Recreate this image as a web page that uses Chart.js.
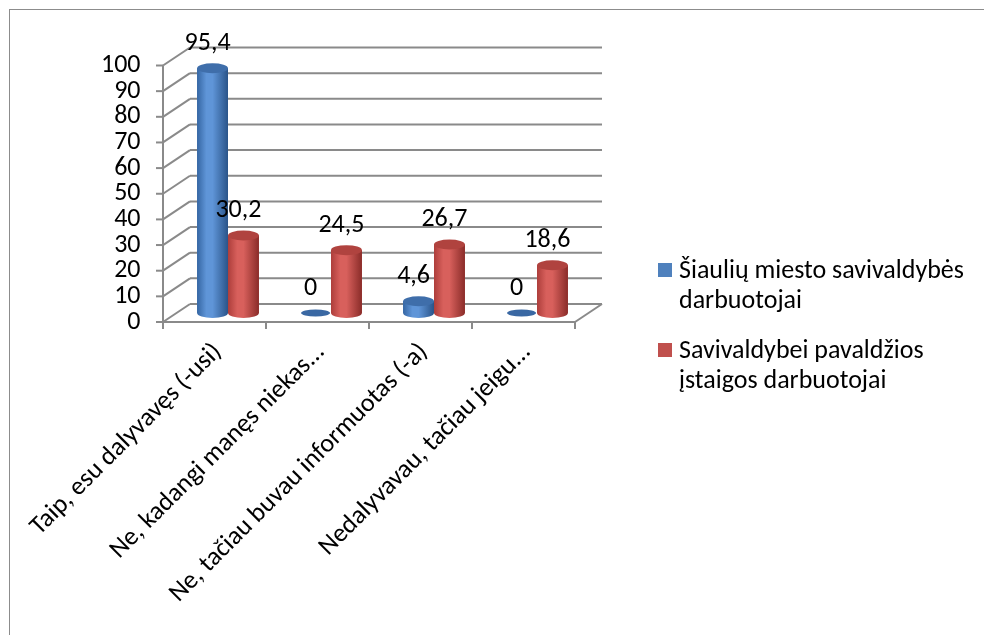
<!DOCTYPE html>
<html>
<head>
<meta charset="utf-8">
<script src="https://cdn.jsdelivr.net/npm/chart.js@4/dist/chart.umd.min.js"></script>
<style>
  body { margin: 0; background: #fff; }
  canvas { display: block; }
</style>
</head>
<body>
<canvas id="myChart" width="984" height="635"></canvas>
<script>
'use strict'
//////////////////
//Data
/////////////////
const categories = ['Taip, esu dalyvavęs (-usi)', 'Ne, kadangi manęs niekas...', 'Ne, tačiau buvau informuotas (-a)', 'Nedalyvavau, tačiau jeigu...'];
const seriesNames = ['Šiaulių miesto savivaldybės darbuotojai', 'Savivaldybei pavaldžios įstaigos darbuotojai'];
const legendLines = [['Šiaulių miesto savivaldybės', 'darbuotojai'], ['Savivaldybei pavaldžios', 'įstaigos darbuotojai']];
const municipalStaff = [95.4, 0, 4.6, 0];
const subordinateStaff = [30.2, 24.5, 26.7, 18.6];
const yMin = 0;
const yMax = 100;
const yStep = 10;

const fontFamily = 'Calibri, Carlito, "Open Sans", sans-serif';
const fontSize = 26;
const gridColor = '#8a8a8a';
// depth of the fake 3d box, half in each direction from the bar plane
const depthX = 13.5;
const depthY = 9;

const seriesColors = [
  {base: '#4f81bd', dark1: '#3566a3', light: '#5f95d8', dark2: '#2a5489', top: '#3f6eaa', flat: '#3a68a3'},
  {base: '#c0504d', dark1: '#ad3e3b', light: '#d8605c', dark2: '#8a2c29', top: '#b0433f', flat: '#a83b38'}
];

/////////////////////////
//Functions
////////////////////////
function line(ctx, x1, y1, x2, y2){
  ctx.beginPath();
  ctx.moveTo(x1, y1);
  ctx.lineTo(x2, y2);
  ctx.stroke();
}

//back wall, left wall and floor
function drawBox(chart){
  const ctx = chart.ctx;
  const area = chart.chartArea;
  const yScale = chart.scales.y;
  const backL = area.left + depthX;
  const backR = area.right + depthX;
  const frontL = area.left - depthX;
  const frontR = area.right - depthX;
  ctx.save();
  ctx.strokeStyle = gridColor;
  ctx.lineWidth = 2;
  for (let tick of yScale.ticks){
    const ym = yScale.getPixelForValue(tick.value);
    line(ctx, backL, ym - depthY, backR, ym - depthY);
    line(ctx, frontL, ym + depthY, backL, ym - depthY);
    line(ctx, frontL - 7, ym + depthY, frontL, ym + depthY);
  }
  const y0 = yScale.getPixelForValue(yMin);
  const yTop = yScale.getPixelForValue(yMax);
  line(ctx, frontL, yTop + depthY, frontL, y0 + depthY);
  line(ctx, frontL, y0 + depthY, frontR, y0 + depthY);
  line(ctx, frontR, y0 + depthY, backR, y0 - depthY);
  const catW = (area.right - area.left) / categories.length;
  for (let i = 0; i <= categories.length; i++){
    const x = frontL + i * catW;
    line(ctx, x, y0 + depthY, x, y0 + depthY + 7);
  }
  ctx.restore();
}

function drawCylinder(ctx, bar, colors){
  const p = bar.getProps(['x', 'y', 'base', 'width'], true);
  const r = p.width / 2;
  const left = p.x - r;
  const ry = 5;
  if (p.base - p.y < 1){
    ctx.fillStyle = colors.flat;
    ctx.beginPath();
    ctx.ellipse(p.x, p.base, r - 1, 3.5, 0, 0, Math.PI * 2);
    ctx.fill();
    return;
  }
  const g = ctx.createLinearGradient(left, 0, left + p.width, 0);
  g.addColorStop(0, colors.dark1);
  g.addColorStop(0.3, colors.light);
  g.addColorStop(0.5, colors.light);
  g.addColorStop(1, colors.dark2);
  ctx.fillStyle = g;
  ctx.fillRect(left, p.y, p.width, p.base - p.y);
  ctx.beginPath();
  ctx.ellipse(p.x, p.base, r, ry, 0, 0, Math.PI);
  ctx.fill();
  ctx.fillStyle = colors.top;
  ctx.beginPath();
  ctx.ellipse(p.x, p.y, r, ry, 0, 0, Math.PI * 2);
  ctx.fill();
}

function formatValue(v){
  return String(v).replace('.', ',');
}

const box3dPlugin = {
  id: 'box3d',
  beforeDraw(chart){
    const ctx = chart.ctx;
    ctx.save();
    ctx.fillStyle = '#fff';
    ctx.fillRect(0, 0, chart.width, chart.height);
    ctx.strokeStyle = '#8c8c8c';
    ctx.lineWidth = 1;
    ctx.strokeRect(9.5, 9.5, 1100, 1100);
    ctx.restore();
  },
  beforeDatasetsDraw(chart){
    drawBox(chart);
  },
  afterDatasetsDraw(chart){
    const ctx = chart.ctx;
    ctx.save();
    chart.data.datasets.forEach((ds, di) => {
      const meta = chart.getDatasetMeta(di);
      meta.data.forEach(bar => drawCylinder(ctx, bar, seriesColors[di]));
    });
    //value labels
    ctx.fillStyle = '#000';
    ctx.font = fontSize + 'px ' + fontFamily;
    ctx.textAlign = 'center';
    ctx.textBaseline = 'middle';
    chart.data.datasets.forEach((ds, di) => {
      const meta = chart.getDatasetMeta(di);
      meta.data.forEach((bar, i) => {
        ctx.fillText(formatValue(ds.data[i]), bar.x - 5, bar.y - 25);
      });
    });
    ctx.restore();
  },
  afterDraw(chart){
    //legend with wrapped names
    const ctx = chart.ctx;
    ctx.save();
    ctx.font = fontSize + 'px ' + fontFamily;
    ctx.textBaseline = 'middle';
    ctx.textAlign = 'left';
    const startY = 271;
    legendLines.forEach((lines, i) => {
      const y = startY + i * 80;
      ctx.fillStyle = seriesColors[i].base;
      ctx.fillRect(658, y - 8, 14, 14);
      ctx.fillStyle = '#000';
      lines.forEach((txt, j) => ctx.fillText(txt, 679, y + j * 30));
    });
    ctx.restore();
  }
};

function renderChart(){
  const data = {
    labels: categories,
    datasets: [{
      label: seriesNames[0],
      data: municipalStaff,
      backgroundColor: seriesColors[0].base,
      borderWidth: 0
    },
    {
      label: seriesNames[1],
      data: subordinateStaff,
      backgroundColor: seriesColors[1].base,
      borderWidth: 0
    }]
  };
  const config = {
    type: 'bar',
    data: data,
    options: {
      responsive: false,
      animation: false,
      devicePixelRatio: 1,
      categoryPercentage: 0.6,
      barPercentage: 1,
      layout: {padding: {left: 56.5, right: 395.5, top: 56.5, bottom: 0}},
      plugins: {
        legend: {display: false},
        tooltip: {enabled: false}
      },
      scales: {
        x: {
          grid: {display: false, drawTicks: false},
          border: {display: false},
          ticks: {
            color: '#000',
            font: {family: fontFamily, size: fontSize},
            minRotation: 45,
            maxRotation: 45,
            autoSkip: false,
            padding: 24,
            labelOffset: -10
          },
          afterFit(scale){
            scale.height = 322;
            scale.paddingLeft = 0;
            scale.paddingRight = 0;
          }
        },
        y: {
          min: yMin,
          max: yMax,
          grid: {display: false, drawTicks: false},
          border: {display: false},
          ticks: {
            stepSize: yStep,
            autoSkip: false,
            color: '#000',
            font: {family: fontFamily, size: fontSize},
            padding: 36,
            labelOffset: depthY
          },
          afterFit(scale){
            scale.width = 120;
          }
        }
      }
    },
    plugins: [box3dPlugin]
  };
  const canvasChart = document.getElementById('myChart');
  new Chart(canvasChart, config);
}

renderChart();
</script>
</body>
</html>
